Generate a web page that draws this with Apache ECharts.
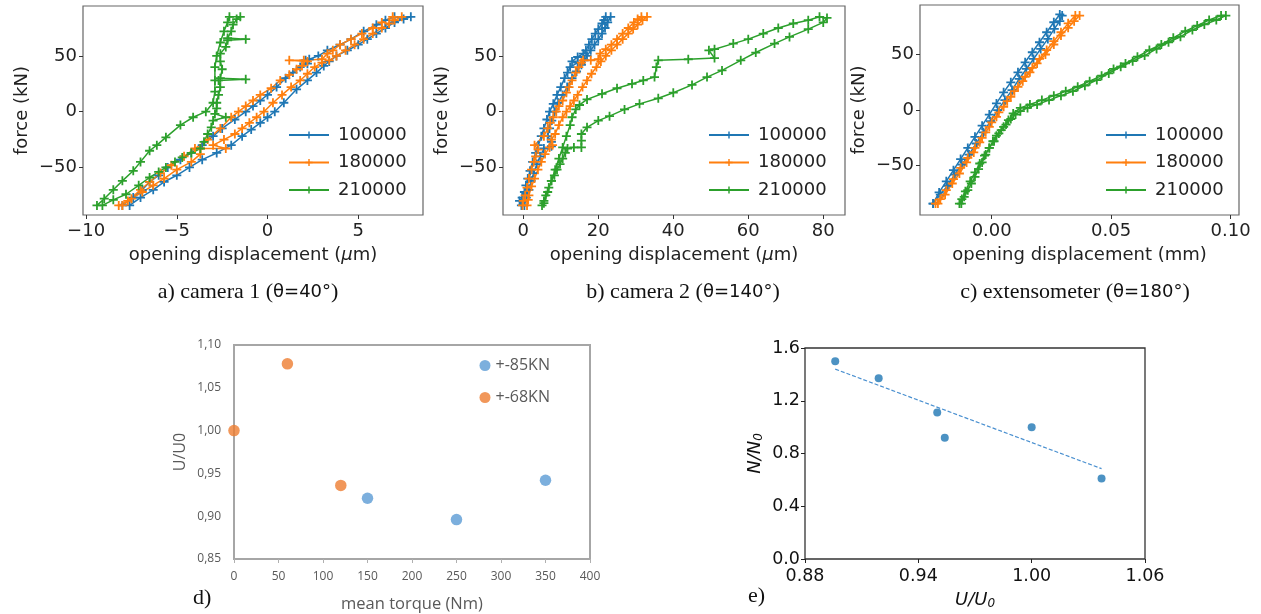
<!DOCTYPE html>
<html><head><meta charset="utf-8">
<script src="https://cdn.jsdelivr.net/npm/echarts@6/dist/echarts.min.js"></script>
<style>html,body{margin:0;padding:0;background:#fff}#c{width:1261px;height:614px}</style>
</head><body><div id="c"></div>
<script>
// ---------- data ----------
const seriesNames = ['100000', '180000', '210000'];

// a) camera 1 : [opening displacement (µm), force (kN)]
const aBlue = [
 [-7.6,-84],[-7.0,-77],[-6.3,-70],[-5.7,-63],[-5.0,-57],[-4.3,-50],[-3.6,-43],[-2.8,-37],[-2.0,-30],[-1.4,-22],[-0.9,-16],[-0.4,-10],[0.0,-5],[0.4,0],[0.9,8],[1.6,20],[2.2,28],[2.7,35],[3.1,41],[3.4,45],[3.8,50],[4.4,55],[5.0,60],[5.5,65],[6.0,70],[6.5,75],[7.0,80],[7.5,83],[7.9,85],
 [7.0,85],[6.5,82],[6.0,78],[5.3,72],[4.6,65],[4.0,60],[3.3,55],[2.8,50],[2.3,47],[2.1,46],[2.2,43],[1.8,40],[1.4,35],[1.0,30],[0.5,22],[0.0,15],[-0.4,10],[-0.8,5],[-1.2,0],[-1.8,-7],[-2.5,-15],[-3.0,-22],[-3.6,-30],[-4.2,-37],[-4.8,-43],[-5.5,-50],[-6.0,-57],[-6.5,-63],[-6.9,-70],[-7.4,-77],[-8.0,-84]
];
const aOrange = [
 [-8.0,-84],[-7.5,-78],[-6.9,-72],[-6.3,-66],[-5.7,-60],[-5.0,-52],[-4.2,-45],[-3.7,-38],[-3.7,-33],[-2.3,-33],[-3.0,-30],[-2.4,-25],[-1.8,-20],[-1.4,-15],[-1.0,-10],[-0.6,-5],[-0.2,0],[0.3,8],[0.8,15],[1.3,22],[1.8,28],[2.2,34],[2.6,40],[3.0,44],[3.4,46],[3.8,50],[4.3,55],[4.8,60],[5.3,65],[5.8,70],[6.3,75],[6.7,79],[7.0,82],[7.4,85],
 [6.9,85],[6.3,80],[5.8,75],[5.2,70],[4.6,65],[4.0,60],[3.6,55],[3.3,52],[3.0,47],[2.0,46],[1.2,46],[2.2,45],[1.9,41],[1.6,38],[1.2,33],[0.7,28],[0.2,21],[-0.4,15],[-0.8,10],[-1.2,5],[-1.6,0],[-2.0,-5],[-2.6,-15],[-3.3,-25],[-4.0,-33],[-4.6,-40],[-5.3,-48],[-5.9,-55],[-6.5,-63],[-7.0,-70],[-7.7,-80],[-8.2,-84]
];
const aGreen = [
 [-9.1,-84],[-8.5,-79],[-7.8,-74],[-7.1,-66],[-6.5,-59],[-6.0,-54],[-5.6,-50],[-5.1,-45],[-4.7,-41],[-4.2,-37],[-3.7,-33],[-3.5,-27],[-3.3,-20],[-3.1,-14],[-3.0,-8],[-2.3,-5],[-2.9,-2],[-2.8,3],[-2.8,8],[-2.7,15],[-2.6,22],[-2.7,28],[-1.2,29],[-2.6,30],[-2.5,38],[-2.6,45],[-2.6,52],[-2.3,58],[-2.2,64],[-1.2,65],[-2.2,66],[-2.0,72],[-1.9,78],[-1.7,83],[-1.5,85],
 [-2.1,85],[-2.2,80],[-2.4,72],[-2.6,62],[-2.8,50],[-2.9,40],[-2.9,28],[-2.9,18],[-3.0,8],[-3.4,0],[-4.1,-5],[-4.8,-12],[-5.6,-23],[-6.1,-30],[-6.5,-35],[-7.0,-45],[-7.4,-53],[-8.0,-62],[-8.5,-70],[-9.0,-78],[-9.4,-84]
];

// b) camera 2 : [opening displacement (µm), force (kN)]
const bBlue = [
 [0.3,-84],[0.8,-77],[1.5,-70],[2.1,-62],[2.8,-55],[3.6,-47],[4.5,-40],[5.5,-33],[7.5,-31],[7.5,-27],[6.5,-22],[7.0,-15],[7.6,-8],[8.3,0],[9.3,8],[10.5,15],[11.7,22],[13.0,30],[14.2,36],[15.5,42],[16.3,46],[17.0,50],[18.0,55],[19.0,60],[20.0,65],[21.0,70],[21.8,75],[22.5,80],[23.3,85],
 [22.0,85],[21.5,82],[21.0,79],[20.0,74],[19.2,70],[18.3,65],[17.5,60],[16.7,55],[16.0,52],[14.5,49],[13.0,45],[14.5,44],[12.5,40],[11.8,35],[11.0,30],[10.0,22],[9.0,15],[8.0,7],[7.0,0],[6.3,-7],[5.5,-15],[4.8,-22],[4.0,-30],[3.3,-37],[2.5,-45],[1.8,-53],[1.2,-60],[0.7,-66],[0.3,-72],[-0.3,-77],[-1.0,-80],[-0.5,-84]
];
const bOrange = [
 [1.0,-84],[1.3,-79],[1.5,-75],[2.2,-67],[3.0,-60],[3.9,-52],[4.8,-45],[5.8,-38],[7.0,-32],[7.8,-30],[7.5,-25],[8.5,-20],[9.5,-12],[10.5,-5],[11.5,0],[12.5,5],[13.5,10],[14.5,15],[15.8,22],[17.0,28],[18.2,34],[19.5,40],[20.7,45],[22.0,50],[23.5,55],[25.0,60],[26.5,65],[28.0,70],[29.3,74],[30.5,78],[31.8,82],[33.0,85],
 [31.5,85],[30.5,83],[29.5,80],[28.0,75],[26.5,70],[25.0,65],[23.5,60],[22.0,56],[20.5,52],[20.0,47],[18.0,46],[16.0,46],[15.5,44],[14.8,40],[14.0,35],[13.0,28],[12.2,22],[11.5,17],[10.5,10],[9.5,5],[8.8,0],[8.0,-5],[7.2,-10],[6.5,-15],[5.5,-22],[3.0,-30],[4.0,-34],[3.3,-40],[2.8,-45],[2.2,-52],[1.5,-60],[1.0,-68],[0.5,-75],[0.0,-80],[-0.2,-84]
];
const bGreen = [
 [5.0,-84],[5.5,-80],[6.0,-75],[6.8,-68],[7.5,-62],[8.3,-57],[9.0,-52],[9.8,-47],[10.5,-42],[11.2,-37],[11.8,-33],[13.5,-32],[15.5,-32],[15.5,-26],[15.5,-20],[17.0,-14],[20.0,-8],[23.0,-4],[27.0,2],[31.0,7],[36.0,12],[40.0,17],[45.0,24],[49.0,31],[53.0,37],[58.0,46],[62.0,53],[67.0,61],[71.0,67],[76.0,74],[80.0,80],[81.0,84],
 [79.0,85],[76.0,82],[72.0,79],[68.0,75],[64.0,70],[60.0,65],[56.0,61],[51.0,56],[49.5,55],[51.0,48],[44.0,47],[36.0,46],[35.5,40],[35.0,31],[32.0,28],[29.0,25],[25.0,21],[21.0,16],[17.0,11],[15.0,6],[14.0,2],[13.0,-5],[12.5,-12],[11.5,-22],[10.5,-32],[9.5,-42],[8.5,-52],[7.5,-62],[6.5,-72],[5.5,-82]
];

// c) extensometer : [opening displacement (mm), force (kN)]
const cBlue = [
 [-0.0245,-84],[-0.0215,-76],[-0.0185,-68],[-0.0155,-58],[-0.0125,-49],[-0.0095,-40],[-0.0065,-30],[-0.0035,-20],[-0.0005,-10],[0.0025,0],[0.0055,9],[0.0085,18],[0.0115,28],[0.0145,37],[0.0175,46],[0.0205,55],[0.0235,64],[0.0262,73],[0.0285,80],[0.0295,85],
 [0.0285,86],[0.026,79],[0.023,70],[0.020,61],[0.017,52],[0.014,43],[0.011,34],[0.008,25],[0.005,16],[0.002,6],[-0.001,-4],[-0.004,-14],[-0.007,-24],[-0.010,-34],[-0.013,-44],[-0.016,-54],[-0.019,-64],[-0.022,-74],[-0.0245,-84]
];
const cOrange = [
 [-0.0225,-84],[-0.0195,-76],[-0.0165,-66],[-0.0135,-57],[-0.0105,-47],[-0.0075,-38],[-0.0050,-29],[-0.0025,-20],[0.0,-11],[0.003,-2],[0.0065,8],[0.0095,17],[0.013,26],[0.016,34],[0.019,42],[0.0225,50],[0.026,59],[0.029,67],[0.032,74],[0.0345,80],[0.0368,85],
 [0.035,85],[0.032,78],[0.029,70],[0.026,62],[0.023,54],[0.020,46],[0.017,38],[0.014,30],[0.011,21],[0.008,12],[0.005,3],[0.002,-6],[-0.001,-15],[-0.004,-25],[-0.007,-34],[-0.010,-43],[-0.013,-52],[-0.016,-62],[-0.019,-72],[-0.0215,-80],[-0.0235,-84]
];
const cGreen = [
 [-0.0127,-84],[-0.0115,-78],[-0.010,-72],[-0.0085,-66],[-0.007,-60],[-0.0055,-53],[-0.004,-47],[-0.0025,-40],[-0.001,-34],[0.0005,-28],[0.002,-23],[0.004,-18],[0.006,-13],[0.008,-8],[0.010,-4],[0.012,-1],[0.015,2],[0.019,5],[0.024,9],[0.029,13],[0.034,17],[0.039,22],[0.044,27],[0.049,33],[0.054,39],[0.059,44],[0.064,49],[0.069,55],[0.074,61],[0.079,66],[0.084,72],[0.089,77],[0.094,81],[0.098,85],
 [0.096,85],[0.091,81],[0.086,76],[0.081,71],[0.076,65],[0.071,59],[0.066,54],[0.061,48],[0.056,42],[0.051,37],[0.046,31],[0.041,26],[0.036,21],[0.031,17],[0.026,13],[0.021,9],[0.016,5],[0.012,2],[0.009,-3],[0.007,-9],[0.005,-15],[0.003,-21],[0.001,-28],[-0.001,-34],[-0.003,-41],[-0.005,-48],[-0.007,-56],[-0.009,-64],[-0.011,-73],[-0.0125,-80],[-0.0135,-84]
];

// d) U/U0 vs mean torque
const dNames = ['+-85KN', '+-68KN'];
const d85Torque = [150, 250, 350];
const d85U = [0.921, 0.896, 0.942];
const d68Torque = [0, 60, 120];
const d68U = [1.000, 1.078, 0.936];

// e) N/N0 vs U/U0
const eU = [0.896, 0.919, 0.950, 0.954, 1.000, 1.037];
const eN = [1.50, 1.37, 1.11, 0.92, 1.00, 0.61];
const eTrendU = [0.896, 1.037];
const eTrendN = [1.44, 0.685];

// tick labels
const aXTicks = [-10, -5, 0, 5];
const bXTicks = [0, 20, 40, 60, 80];
const cXTicks = [0, 0.05, 0.10];
const forceTicks = [-50, 0, 50];
const eXTicks = [0.88, 0.94, 1.00, 1.06];

// ---------- chart ----------
const colors = ['#1f77b4', '#ff7f0e', '#2ca02c'];
const plusSym = 'path://M4,0H6V4H10V6H6V10H4V6H0V4H4Z';
const mpl = 'DejaVu Sans';
const minus = v => String(v).replace('-', '\u2212');
const zip = (xs, ys) => xs.map((x, i) => [x, ys[i]]);

function mplX(idx, min, max, ticks, fmt, nameRich) {
  return {
    type: 'value', gridIndex: idx, min, max,
    axisLine: {show: false, onZero: false}, splitLine: {show: false},
    axisTick: {show: true, customValues: ticks, length: 4, lineStyle: {color: '#333'}},
    axisLabel: {customValues: ticks, formatter: fmt, fontFamily: mpl, fontSize: 18, color: '#222', margin: 7},
    name: nameRich, nameLocation: 'middle', nameGap: 31,
    nameTextStyle: {rich: {
      n: {fontFamily: mpl, fontSize: 18, color: '#222'},
      mu: {fontFamily: mpl, fontSize: 18, color: '#222', fontStyle: 'italic'}
    }}
  };
}
function mplY(idx, min, max) {
  return {
    type: 'value', gridIndex: idx, min, max,
    axisLine: {show: false, onZero: false}, splitLine: {show: false},
    axisTick: {show: true, customValues: forceTicks, length: 4, lineStyle: {color: '#333'}},
    axisLabel: {customValues: forceTicks, formatter: minus, fontFamily: mpl, fontSize: 18, color: '#222', margin: 6},
    name: 'force (kN)', nameLocation: 'middle', nameGap: 52,
    nameTextStyle: {fontFamily: mpl, fontSize: 18, color: '#222'}
  };
}
function lineS(name, data, idx, color) {
  return {
    type: 'line', name, data, xAxisIndex: idx, yAxisIndex: idx,
    symbol: plusSym, symbolSize: 9, showAllSymbol: true,
    lineStyle: {width: 1.5, color}, itemStyle: {color}, color,
    emphasis: {disabled: true}, animation: false
  };
}
function mplLegend(left) {
  return {
    data: seriesNames, orient: 'vertical', left, top: 121,
    itemWidth: 40, itemHeight: 9, itemGap: 9.5, selectedMode: false,
    textStyle: {fontFamily: mpl, fontSize: 18, color: '#222', padding: [0, 0, 0, 4]}
  };
}

const xName = '{n|opening displacement (}{mu|μ}{n|m)}';
const capRich = {
  s: {fontFamily: 'Liberation Serif', fontSize: 22, fontWeight: 'normal', color: '#111'},
  n: {fontFamily: mpl, fontSize: 18, fontWeight: 'normal', color: '#111'}
};
const dGray = '#595959';

const option = {
  backgroundColor: '#fff',
  animation: false,
  title: [
    {text: '{s|a) camera 1 (}{n|θ=40°}{s|)}', left: 243, top: 276, textAlign: 'center', textStyle: {fontWeight: 'normal', rich: capRich}},
    {text: '{s|b) camera 2 (}{n|θ=140°}{s|)}', left: 678, top: 276, textAlign: 'center', textStyle: {fontWeight: 'normal', rich: capRich}},
    {text: '{s|c) extensometer (}{n|θ=180°}{s|)}', left: 1070, top: 276, textAlign: 'center', textStyle: {fontWeight: 'normal', rich: capRich}},
    {text: 'd)', left: 188, top: 582, textStyle: {fontFamily: 'Liberation Serif', fontSize: 22, fontWeight: 'normal', color: '#111'}},
    {text: 'e)', left: 743, top: 580, textStyle: {fontFamily: 'Liberation Serif', fontSize: 22, fontWeight: 'normal', color: '#111'}}
  ],
  grid: [
    {left: 83, top: 6, width: 340, height: 209, show: true, borderColor: '#666', borderWidth: 1.2, backgroundColor: 'transparent'},
    {left: 503, top: 6, width: 342, height: 209, show: true, borderColor: '#666', borderWidth: 1.2, backgroundColor: 'transparent'},
    {left: 920, top: 5, width: 319, height: 210, show: true, borderColor: '#666', borderWidth: 1.2, backgroundColor: 'transparent'},
    {left: 234, top: 345, width: 356, height: 214, show: true, borderColor: '#a6a6a6', borderWidth: 2, backgroundColor: 'transparent'},
    {left: 805, top: 348, width: 340, height: 211, show: true, borderColor: '#333', borderWidth: 1.3, backgroundColor: 'transparent'}
  ],
  xAxis: [
    mplX(0, -10.17, 8.57, aXTicks, minus, xName),
    mplX(1, -5.41, 85.8, bXTicks, minus, xName),
    mplX(2, -0.030, 0.1035, cXTicks, v => v.toFixed(2), '{n|opening displacement (mm)}'),
    {
      type: 'value', gridIndex: 3, min: 0, max: 400, interval: 50,
      axisLine: {show: false, onZero: false}, splitLine: {show: false},
      axisTick: {show: true, length: 4, lineStyle: {color: '#b0b0b0', width: 1}},
      axisLabel: {fontFamily: 'Open Sans', fontSize: 12, color: dGray, margin: 12},
      name: 'mean torque (Nm)', nameLocation: 'middle', nameGap: 37,
      nameTextStyle: {fontFamily: 'Open Sans', fontSize: 16.5, color: dGray}
    },
    {
      type: 'value', gridIndex: 4, min: 0.88, max: 1.06,
      axisLine: {show: false, onZero: false}, splitLine: {show: false},
      axisTick: {show: true, customValues: eXTicks, length: 4, lineStyle: {color: '#222'}},
      axisLabel: {customValues: eXTicks, formatter: v => v.toFixed(2), fontFamily: mpl, fontSize: 17.5, color: '#111', margin: 8},
      name: '{it|U/U}{sub|0}', nameLocation: 'middle', nameGap: 31,
      nameTextStyle: {rich: {
        it: {fontFamily: mpl, fontSize: 18, fontStyle: 'italic', color: '#111'},
        sub: {fontFamily: mpl, fontSize: 12, fontStyle: 'italic', color: '#111', verticalAlign: 'bottom', padding: [8, 0, 0, 0]}
      }}
    }
  ],
  yAxis: [
    mplY(0, -92.6, 94.7),
    mplY(1, -92.6, 94.7),
    mplY(2, -94.3, 94.5),
    {
      type: 'value', gridIndex: 3, min: 0.85, max: 1.10, interval: 0.05,
      axisLine: {show: false, onZero: false}, splitLine: {show: false}, axisTick: {show: false},
      axisLabel: {formatter: v => v.toFixed(2).replace('.', ','), fontFamily: 'Open Sans', fontSize: 12, color: dGray, margin: 13},
      name: 'U/U0', nameLocation: 'middle', nameGap: 46,
      nameTextStyle: {fontFamily: 'Open Sans', fontSize: 16, color: dGray}
    },
    {
      type: 'value', gridIndex: 4, min: 0, max: 1.6, interval: 0.4,
      axisLine: {show: false, onZero: false}, splitLine: {show: false},
      axisTick: {show: true, length: 4, lineStyle: {color: '#222'}},
      axisLabel: {formatter: v => v.toFixed(1), fontFamily: mpl, fontSize: 17.5, color: '#111', margin: 5},
      name: '{it|N/N}{sub|0}', nameLocation: 'middle', nameGap: 40,
      nameTextStyle: {rich: {
        it: {fontFamily: mpl, fontSize: 18, fontStyle: 'italic', color: '#111'},
        sub: {fontFamily: mpl, fontSize: 12, fontStyle: 'italic', color: '#111', verticalAlign: 'bottom', padding: [8, 0, 0, 0]}
      }}
    }
  ],
  legend: [
    mplLegend(283), mplLegend(703), mplLegend(1100),
    {
      data: dNames, orient: 'vertical', left: 474.5, top: 351.5, icon: 'circle',
      itemWidth: 11, itemHeight: 11, itemGap: 14, selectedMode: false,
      textStyle: {fontFamily: 'Open Sans', fontSize: 16, lineHeight: 18, color: dGray}
    }
  ],
  series: [
    lineS(seriesNames[0], aBlue, 0, colors[0]),
    lineS(seriesNames[1], aOrange, 0, colors[1]),
    lineS(seriesNames[2], aGreen, 0, colors[2]),
    lineS(seriesNames[0], bBlue, 1, colors[0]),
    lineS(seriesNames[1], bOrange, 1, colors[1]),
    lineS(seriesNames[2], bGreen, 1, colors[2]),
    lineS(seriesNames[0], cBlue, 2, colors[0]),
    lineS(seriesNames[1], cOrange, 2, colors[1]),
    lineS(seriesNames[2], cGreen, 2, colors[2]),
    {type: 'scatter', name: dNames[0], xAxisIndex: 3, yAxisIndex: 3, data: zip(d85Torque, d85U),
     symbolSize: 11.5, itemStyle: {color: '#5b9bd5'}, color: '#5b9bd5'},
    {type: 'scatter', name: dNames[1], xAxisIndex: 3, yAxisIndex: 3, data: zip(d68Torque, d68U),
     symbolSize: 11.5, itemStyle: {color: '#ed7d31'}, color: '#ed7d31'},
    {type: 'line', name: 'trend', xAxisIndex: 4, yAxisIndex: 4, data: zip(eTrendU, eTrendN),
     symbol: 'none', lineStyle: {type: [4, 2], width: 1.2, color: '#4a90d0'}},
    {type: 'scatter', name: 'N/N0', xAxisIndex: 4, yAxisIndex: 4, data: zip(eU, eN),
     symbolSize: 8, itemStyle: {color: '#1f77b4'}}
  ]
};

const chart = echarts.init(document.getElementById('c'), null, {renderer: 'canvas'});
chart.setOption(option);
</script></body></html>
